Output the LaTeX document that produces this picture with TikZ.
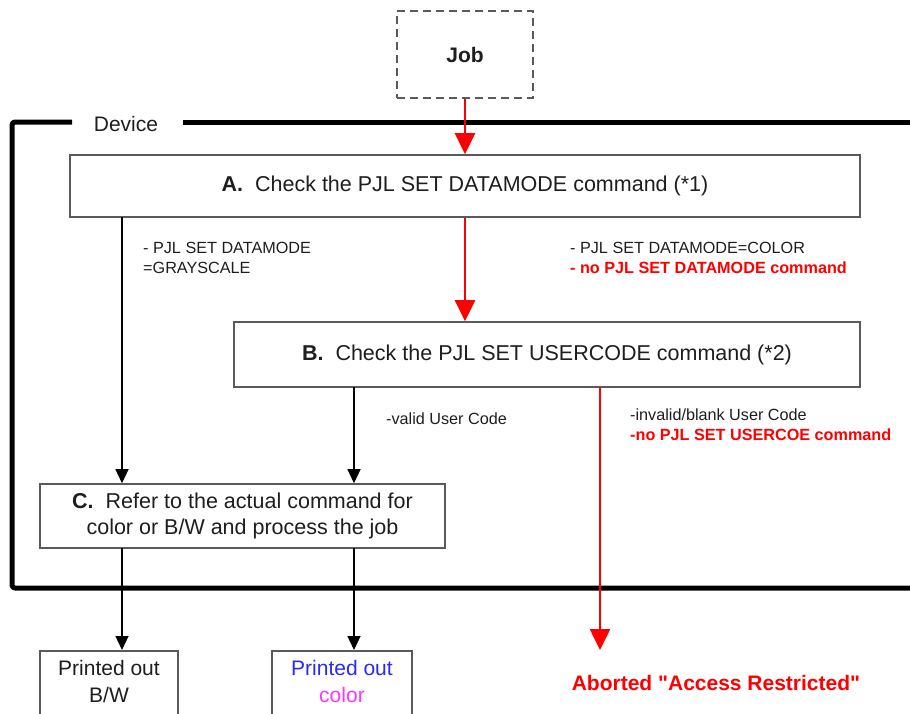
\documentclass[tikz,border=0pt]{standalone}
\usepackage{fontspec}
\setmainfont{Liberation Sans}
\newfontfamily\plainsans{Liberation Sans}
\usetikzlibrary{arrows.meta}
\definecolor{boxgray}{RGB}{90,90,90}
\definecolor{txt}{RGB}{30,30,30}
\definecolor{pmag}{RGB}{255,50,255}
\definecolor{pblue}{RGB}{40,40,255}
\begin{document}
\begin{tikzpicture}[x=1pt,y=-1pt,
  stepbox/.style={draw=boxgray,line width=1.6pt,fill=white,text=txt,font=\fontsize{21.5}{26.5}\selectfont,align=center,inner sep=0pt},
  lbl/.style={text=txt,font=\fontsize{16.2}{19.5}\selectfont,align=left,anchor=north west,inner sep=0pt},
  redlbl/.style={text=red,font=\bfseries\fontsize{16.2}{19.5}\selectfont,align=left,anchor=north west,inner sep=0pt},
  blk/.style={draw=black,line width=1.3pt,-{Triangle[width=13pt,length=14pt]}},
  redarr/.style={draw=red,line width=2.6pt,-{Triangle[width=20pt,length=21pt]}}]
\useasboundingbox (0,0) rectangle (910,713);
% device frame
\draw[line width=5pt,line join=round,rounded corners=3pt] (72,122) -- (12,122) -- (12,588) -- (920,588);
\draw[line width=5pt] (183,122) -- (920,122);
\node[text=txt,font=\fontsize{21}{24}\selectfont,anchor=center] (dev) at (126,124) {Device};
% job
\node[draw=boxgray,dashed,dash pattern=on 8pt off 5pt,line width=1.6pt,minimum width=136pt,minimum height=87pt,font=\bfseries\fontsize{21}{24}\selectfont,text=txt] (job) at (465,54.5) {Job};
% boxes
\node[stepbox,minimum width=790pt,minimum height=62pt] (A) at (465,186) {\textbf{A.}\ \ Check the PJL SET DATAMODE command (*1)};
\node[stepbox,minimum width=626pt,minimum height=65pt] (B) at (547,354.5) {\textbf{B.}\ \ Check the PJL SET USERCODE command (*2)};
\node[stepbox,minimum width=405pt,minimum height=64pt] (C) at (242.5,516) {\textbf{C.}\ \ Refer to the actual command for\\color or B/W and process the job};
\node[stepbox,minimum width=138pt,minimum height=80pt,anchor=north] (bw) at (109,650) {};
\node[stepbox,minimum width=140pt,minimum height=80pt,anchor=north] (col) at (342,650) {};
\node[font=\fontsize{21}{27}\selectfont,text=txt,align=center] (bwt) at (109,681) {Printed out\\B/W};
\node[font=\fontsize{21}{27}\selectfont,align=center] (colt) at (342,681) {\textcolor{pblue}{Printed out}\\\textcolor{pmag}{color}};
\coordinate (abortend) at (600,650);
\node[text=red,font=\plainsans\bfseries\fontsize{21}{24}\selectfont] (abort) at (716,683) {Aborted "Access Restricted"};
% connectors
\draw[redarr] (job.south) -- (A.north -| job.south);
\draw[redarr] (A.south -| job.south) -- (B.north -| job.south);
\draw[blk] (122,217) -- (C.north -| 122,0);
\draw[blk] (354,387) -- (C.north -| 354,0);
\draw[redarr] (600,387) -- (abortend);
\draw[blk] (122,548) -- (bw.north -| 122,0);
\draw[blk] (354,548) -- (col.north -| 354,0);
% labels
\node[lbl] (l1) at (143,242) {- PJL SET DATAMODE\\=GRAYSCALE};
\node[lbl] (l2) at (570,242) {- PJL SET DATAMODE=COLOR};
\node[redlbl] (l3) at (570,262) {- no PJL SET DATAMODE command};
\node[lbl] (l4) at (386,413) {-valid User Code};
\node[lbl] (l5) at (630,409) {-invalid/blank User Code};
\node[redlbl] (l6) at (630,429) {-no PJL SET USERCOE command};
\end{tikzpicture}
\end{document}
